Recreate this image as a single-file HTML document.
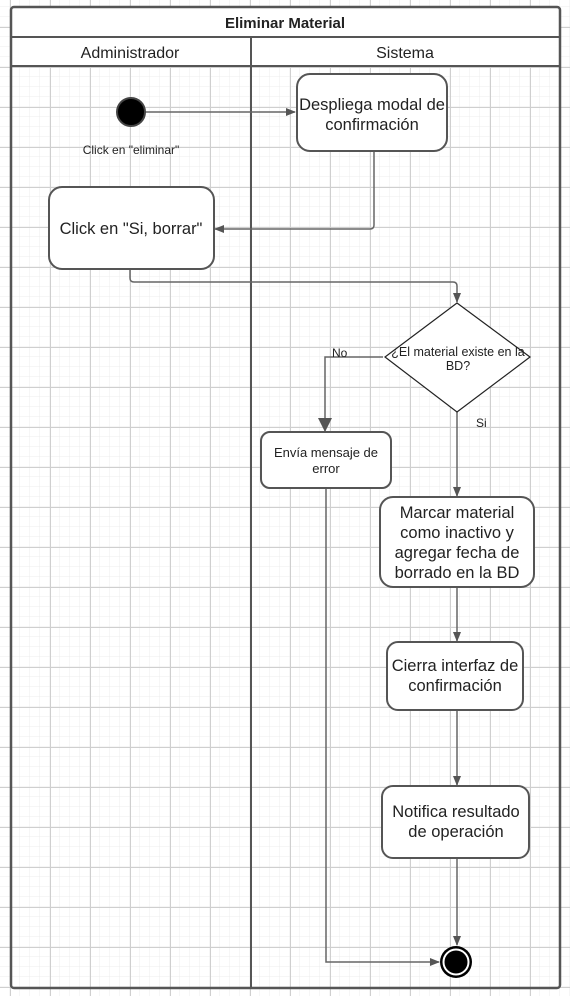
<!DOCTYPE html>
<html><head><meta charset="utf-8"><style>
html,body{margin:0;padding:0;width:570px;height:996px;overflow:hidden;background:#fff}
svg{display:block}
text{font-family:"Liberation Sans",Arial,sans-serif;fill:#222}
</style></head><body>
<svg width="570" height="996" viewBox="0 0 570 996" xmlns="http://www.w3.org/2000/svg">
<defs>
<pattern id="minor" width="10" height="10" patternUnits="userSpaceOnUse" x="0" y="7">
<path d="M10 0V10M0 10H10" fill="none" stroke="#ececec" stroke-width="1"/>
</pattern>
<pattern id="major" width="40" height="40" patternUnits="userSpaceOnUse" x="10" y="27">
<path d="M0.5 0V40M0 0.5H40" fill="none" stroke="#cfcfcf" stroke-width="1"/>
</pattern>
<marker id="ar" markerWidth="10" markerHeight="10" refX="9" refY="5" orient="auto" markerUnits="userSpaceOnUse">
<path d="M0 1L10 5L0 9Z" fill="#555"/>
</marker>
<marker id="arB" markerWidth="14" markerHeight="16" refX="13" refY="8" orient="auto" markerUnits="userSpaceOnUse">
<path d="M0 1L14 8L0 15Z" fill="#555"/>
</marker>
</defs>
<rect width="570" height="996" fill="url(#minor)"/>
<rect width="570" height="996" fill="url(#major)"/>
<rect x="11" y="7" width="549" height="59" fill="#fff"/>
<rect x="11" y="7" width="549" height="981" rx="3" fill="none" stroke="#555" stroke-width="2.5"/>
<line x1="11" y1="37" x2="560" y2="37" stroke="#555" stroke-width="2"/>
<line x1="11" y1="66" x2="560" y2="66" stroke="#555" stroke-width="2"/>
<line x1="251" y1="37" x2="251" y2="988" stroke="#555" stroke-width="2"/>
<text x="285" y="28" font-size="15" font-weight="bold" text-anchor="middle">Eliminar Material</text>
<text x="130" y="58" font-size="16" text-anchor="middle">Administrador</text>
<text x="405" y="58" font-size="16" text-anchor="middle">Sistema</text>
<g fill="none" stroke="#666" stroke-width="1.5">
<path d="M145 112H295" marker-end="url(#ar)"/>
<path d="M374 151V225Q374 229 370 229H215" marker-end="url(#ar)"/>
<path d="M130 269V278Q130 282 134 282H453Q457 282 457 286V302" marker-end="url(#ar)"/>
<path d="M383 357H325V431" marker-end="url(#arB)"/>
<path d="M457 412V496" marker-end="url(#ar)"/>
<path d="M457 587V641" marker-end="url(#ar)"/>
<path d="M457 710V785" marker-end="url(#ar)"/>
<path d="M457 858V945" marker-end="url(#ar)"/>
<path d="M326 488V962H439" marker-end="url(#ar)"/>
</g>
<circle cx="131" cy="112" r="14" fill="#000" stroke="#444" stroke-width="2"/>
<text x="131" y="154" font-size="12" text-anchor="middle">Click en "eliminar"</text>
<rect x="297" y="74" width="150" height="77" rx="13" fill="#fff" stroke="#555" stroke-width="2"/>
<text x="372" y="110" font-size="16.5" text-anchor="middle">Despliega modal de</text>
<text x="372" y="130" font-size="16.5" text-anchor="middle">confirmación</text>
<rect x="49" y="187" width="165" height="82" rx="13" fill="#fff" stroke="#555" stroke-width="2"/>
<text x="131" y="234" font-size="16.5" text-anchor="middle">Click en "Si, borrar"</text>
<path d="M457 303L530 357L457 412L385 357Z" fill="#fff" stroke="#222" stroke-width="1.2"/>
<text x="458" y="356" font-size="12.5" text-anchor="middle">¿El material existe en la</text>
<text x="458" y="370" font-size="12.5" text-anchor="middle">BD?</text>
<text x="332" y="357" font-size="12">No</text>
<text x="476" y="427" font-size="12">Si</text>
<rect x="261" y="432" width="130" height="56" rx="9" fill="#fff" stroke="#555" stroke-width="2"/>
<text x="326" y="457" font-size="13" text-anchor="middle">Envía mensaje de</text>
<text x="326" y="473" font-size="13" text-anchor="middle">error</text>
<rect x="380" y="497" width="154" height="90" rx="13" fill="#fff" stroke="#555" stroke-width="2"/>
<text x="457" y="518" font-size="16.5" text-anchor="middle">Marcar material</text>
<text x="457" y="538" font-size="16.5" text-anchor="middle">como inactivo y</text>
<text x="457" y="558" font-size="16.5" text-anchor="middle">agregar fecha de</text>
<text x="457" y="578" font-size="16.5" text-anchor="middle">borrado en la BD</text>
<rect x="387" y="642" width="136" height="68" rx="11" fill="#fff" stroke="#555" stroke-width="2"/>
<text x="455" y="671" font-size="16.5" text-anchor="middle">Cierra interfaz de</text>
<text x="455" y="691" font-size="16.5" text-anchor="middle">confirmación</text>
<rect x="382" y="786" width="147" height="72" rx="11" fill="#fff" stroke="#555" stroke-width="2"/>
<text x="456" y="817" font-size="16.5" text-anchor="middle">Notifica resultado</text>
<text x="456" y="837" font-size="16.5" text-anchor="middle">de operación</text>
<circle cx="456" cy="962" r="16" fill="#000"/>
<circle cx="456" cy="962" r="12.5" fill="none" stroke="#fff" stroke-width="2"/>
</svg>
</body></html>
